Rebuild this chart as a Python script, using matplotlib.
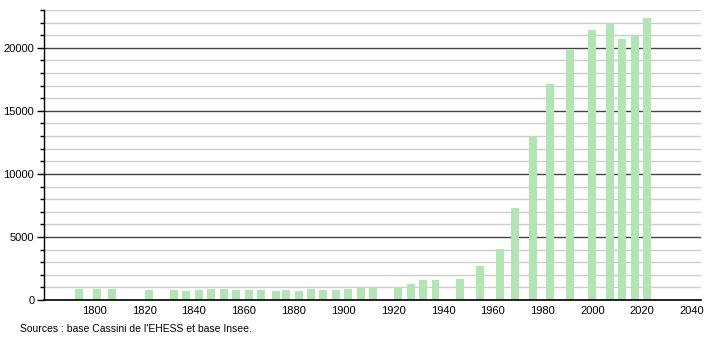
import matplotlib.pyplot as plt
from matplotlib.ticker import MultipleLocator

# -----------------------------
# Data
# -----------------------------
years = [1793, 1800, 1806, 1821, 1831, 1836, 1841, 1846, 1851, 1856,
         1861, 1866, 1872, 1876, 1881, 1886, 1891, 1896, 1901, 1906,
         1911, 1921, 1926, 1931, 1936, 1946, 1954, 1962, 1968, 1975,
         1982, 1990, 1999, 2006, 2011, 2016, 2021]
population = [855, 855, 855, 770, 770, 685, 770, 855, 855, 770,
              770, 770, 685, 770, 685, 855, 770, 770, 855, 940,
              1000, 1000, 1260, 1560, 1560, 1640, 2690, 4080, 7330, 12970,
              17150, 19790, 21400, 21880, 20670, 20950, 22340]
x_ticks = list(range(1800, 2041, 20))
y_ticks = list(range(0, 20001, 5000))

SOURCE = "Sources : base Cassini de l'EHESS et base Insee."

plt.rcParams["font.family"] = ["Liberation Sans", "DejaVu Sans"]

fig = plt.figure(figsize=(7.1, 3.4), dpi=100)
ax = fig.add_axes([44 / 710, 40 / 340, 657 / 710, 290 / 340])

ax.bar([y - 0.6 for y in years], population, width=3.2, align="edge",
       color="#b3e4b3", zorder=3)

ax.set_xlim(1779.8, 2043.6)
ax.set_ylim(0, 23000)

ax.set_xticks(x_ticks)
ax.set_yticks(y_ticks)
ax.yaxis.set_minor_locator(MultipleLocator(1000))
ax.grid(axis="y", which="minor", color="#cccccc", linewidth=1, zorder=1)
ax.grid(axis="y", which="major", color="#444444", linewidth=1, zorder=2)

ax.tick_params(axis="x", length=0, pad=4, labelsize=8)
ax.tick_params(axis="y", which="major", length=5, width=1, pad=2, labelsize=8)
ax.tick_params(axis="y", which="minor", length=3, width=1)

for s in ["top", "right"]:
    ax.spines[s].set_visible(False)
ax.spines["left"].set_linewidth(1)
ax.spines["bottom"].set_linewidth(1.2)
ax.spines["left"].set_zorder(4)
ax.spines["bottom"].set_zorder(4)

fig.text(20 / 710, 1 - 329 / 340, SOURCE, fontsize=7.5, va="center", ha="left")

fig.savefig("out.png", dpi=100)
